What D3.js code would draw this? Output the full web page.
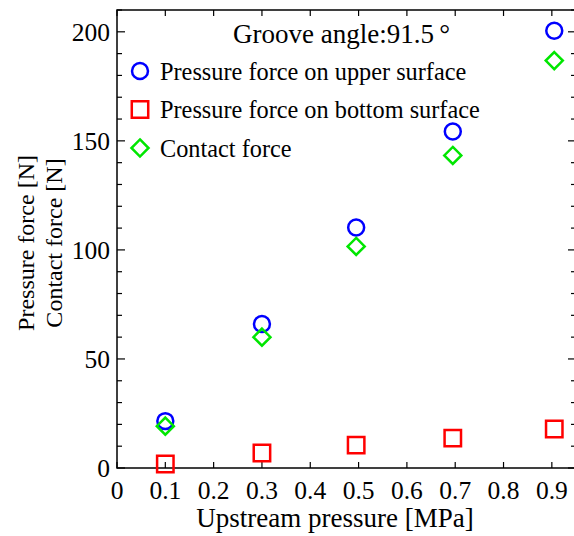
<!DOCTYPE html>
<html>
<head>
<meta charset="utf-8">
<script src="https://cdn.jsdelivr.net/npm/d3@7"></script>
<style>
body { margin: 0; background: #fff; }
svg text { font-family: 'Liberation Serif', 'Times New Roman', Times, 'DejaVu Serif', serif; fill: #000; }
</style>
</head>
<body>
<div id="chart"></div>
<script>
// data
var presion = [0.1, 0.3, 0.495, 0.695, 0.905];
var fuerzaSuperior = [21.5, 66, 110.3, 154.3, 200.5];
var fuerzaInferior = [1.8, 6.9, 10.5, 13.7, 17.9];
var fuerzaContacto = [19.2, 60, 101.6, 143.3, 186.8];
var xTicks = [0, 0.1, 0.2, 0.3, 0.4, 0.5, 0.6, 0.7, 0.8, 0.9];
var yTicks = [0, 50, 100, 150, 200];

var fuente = "'Liberation Serif', 'Times New Roman', Times, serif";
var margin = { top: 10, right: -2, bottom: 68, left: 117 };
var canvas = d3.select("#chart").append("svg").attr("width", 574).attr("height", 536)
    .attr("font-family", fuente);
var width = 576 - margin.left;
var height = 536 - margin.top - margin.bottom;

var x = d3.scaleLinear().domain([0, 0.95]).range([0, width]);
var y = d3.scaleLinear().domain([0, 210]).range([height, 0]);

var g = canvas.append("g").attr("transform", "translate(" + margin.left + "," + margin.top + ")");

// frame
g.append("rect").attr("width", width).attr("height", height)
    .attr("fill", "none").attr("stroke", "#000").attr("stroke-width", 1.5);

var xMinor = d3.range(0, 0.95, 0.1);
var yMinor = d3.range(0, 211, 10);

// ticks, all pointing inward
g.selectAll(".tb").data(xMinor).enter().append("line")
    .attr("x1", d => x(d)).attr("x2", d => x(d)).attr("y1", height).attr("y2", height - 6)
    .attr("stroke", "#000").attr("stroke-width", 1.2);
g.selectAll(".tt").data(xMinor).enter().append("line")
    .attr("x1", d => x(d)).attr("x2", d => x(d)).attr("y1", 0).attr("y2", 6)
    .attr("stroke", "#000").attr("stroke-width", 1.2);
g.selectAll(".tl").data(yMinor).enter().append("line")
    .attr("x1", 0).attr("x2", d => (d % 50 === 0 ? 8 : 5)).attr("y1", d => y(d)).attr("y2", d => y(d))
    .attr("stroke", "#000").attr("stroke-width", 1.2);
g.selectAll(".tr").data(yMinor).enter().append("line")
    .attr("x1", width).attr("x2", d => width - (d % 50 === 0 ? 8 : 5)).attr("y1", d => y(d)).attr("y2", d => y(d))
    .attr("stroke", "#000").attr("stroke-width", 1.2);

// tick labels
g.selectAll(".xl").data(xTicks).enter().append("text")
    .attr("x", d => x(d)).attr("y", height + 31)
    .attr("text-anchor", "middle").attr("font-size", 25.5)
    .attr("font-family", fuente)
    .text(d => d === 0 ? "0" : d3.format(".1f")(d));
g.selectAll(".yl").data(yTicks).enter().append("text")
    .attr("x", -7).attr("y", d => y(d)).attr("dy", "0.35em")
    .attr("text-anchor", "end").attr("font-size", 25.5)
    .attr("font-family", fuente)
    .text(d => d);

// axis titles
g.append("text").attr("x", 218).attr("y", height + 59)
    .attr("text-anchor", "middle").attr("font-size", 27).attr("font-family", fuente)
    .text("Upstream pressure [MPa]");
var yt = canvas.append("g").attr("transform", "translate(0,243) rotate(-90)");
yt.append("text").attr("x", 0).attr("y", 34).attr("text-anchor", "middle").attr("font-size", 24)
    .attr("font-family", fuente).text("Pressure force [N]");
yt.append("text").attr("x", 0).attr("y", 62).attr("text-anchor", "middle").attr("font-size", 24)
    .attr("font-family", fuente).text("Contact force [N]");

// markers
var circulo = d3.symbol().type(d3.symbolCircle).size(200);
var cuadrado = d3.symbol().type(d3.symbolSquare).size(270);
var diamante = d3.symbol().type(d3.symbolDiamond2).size(185);

function dibujar(valores, forma, color) {
    g.selectAll(null).data(valores).enter().append("path")
        .attr("d", forma)
        .attr("transform", (d, i) => "translate(" + x(presion[i]) + "," + y(d) + ")")
        .attr("fill", "none").attr("stroke", color).attr("stroke-width", 2.5);
}
dibujar(fuerzaInferior, cuadrado, "#ff0000");
dibujar(fuerzaSuperior, circulo, "#0000ff");
dibujar(fuerzaContacto, diamante, "#00e600");

// legend
g.append("text").attr("x", 116).attr("y", 33).attr("font-size", 27).attr("font-family", fuente)
    .text("Groove angle:91.5\u2009\u00b0");
var leyenda = [
    { forma: circulo, color: "#0000ff", texto: "Pressure force on upper surface" },
    { forma: cuadrado, color: "#ff0000", texto: "Pressure force on bottom surface" },
    { forma: diamante, color: "#00e600", texto: "Contact force" }
];
leyenda.forEach(function (d, i) {
    var yy = 61 + i * 38.5;
    g.append("path").attr("d", d.forma).attr("transform", "translate(23," + yy + ")")
        .attr("fill", "none").attr("stroke", d.color).attr("stroke-width", 2.5);
    g.append("text").attr("x", 43).attr("y", yy).attr("dy", "0.35em").attr("font-size", 24.3)
        .attr("font-family", fuente).text(d.texto);
});
</script>
</body>
</html>
